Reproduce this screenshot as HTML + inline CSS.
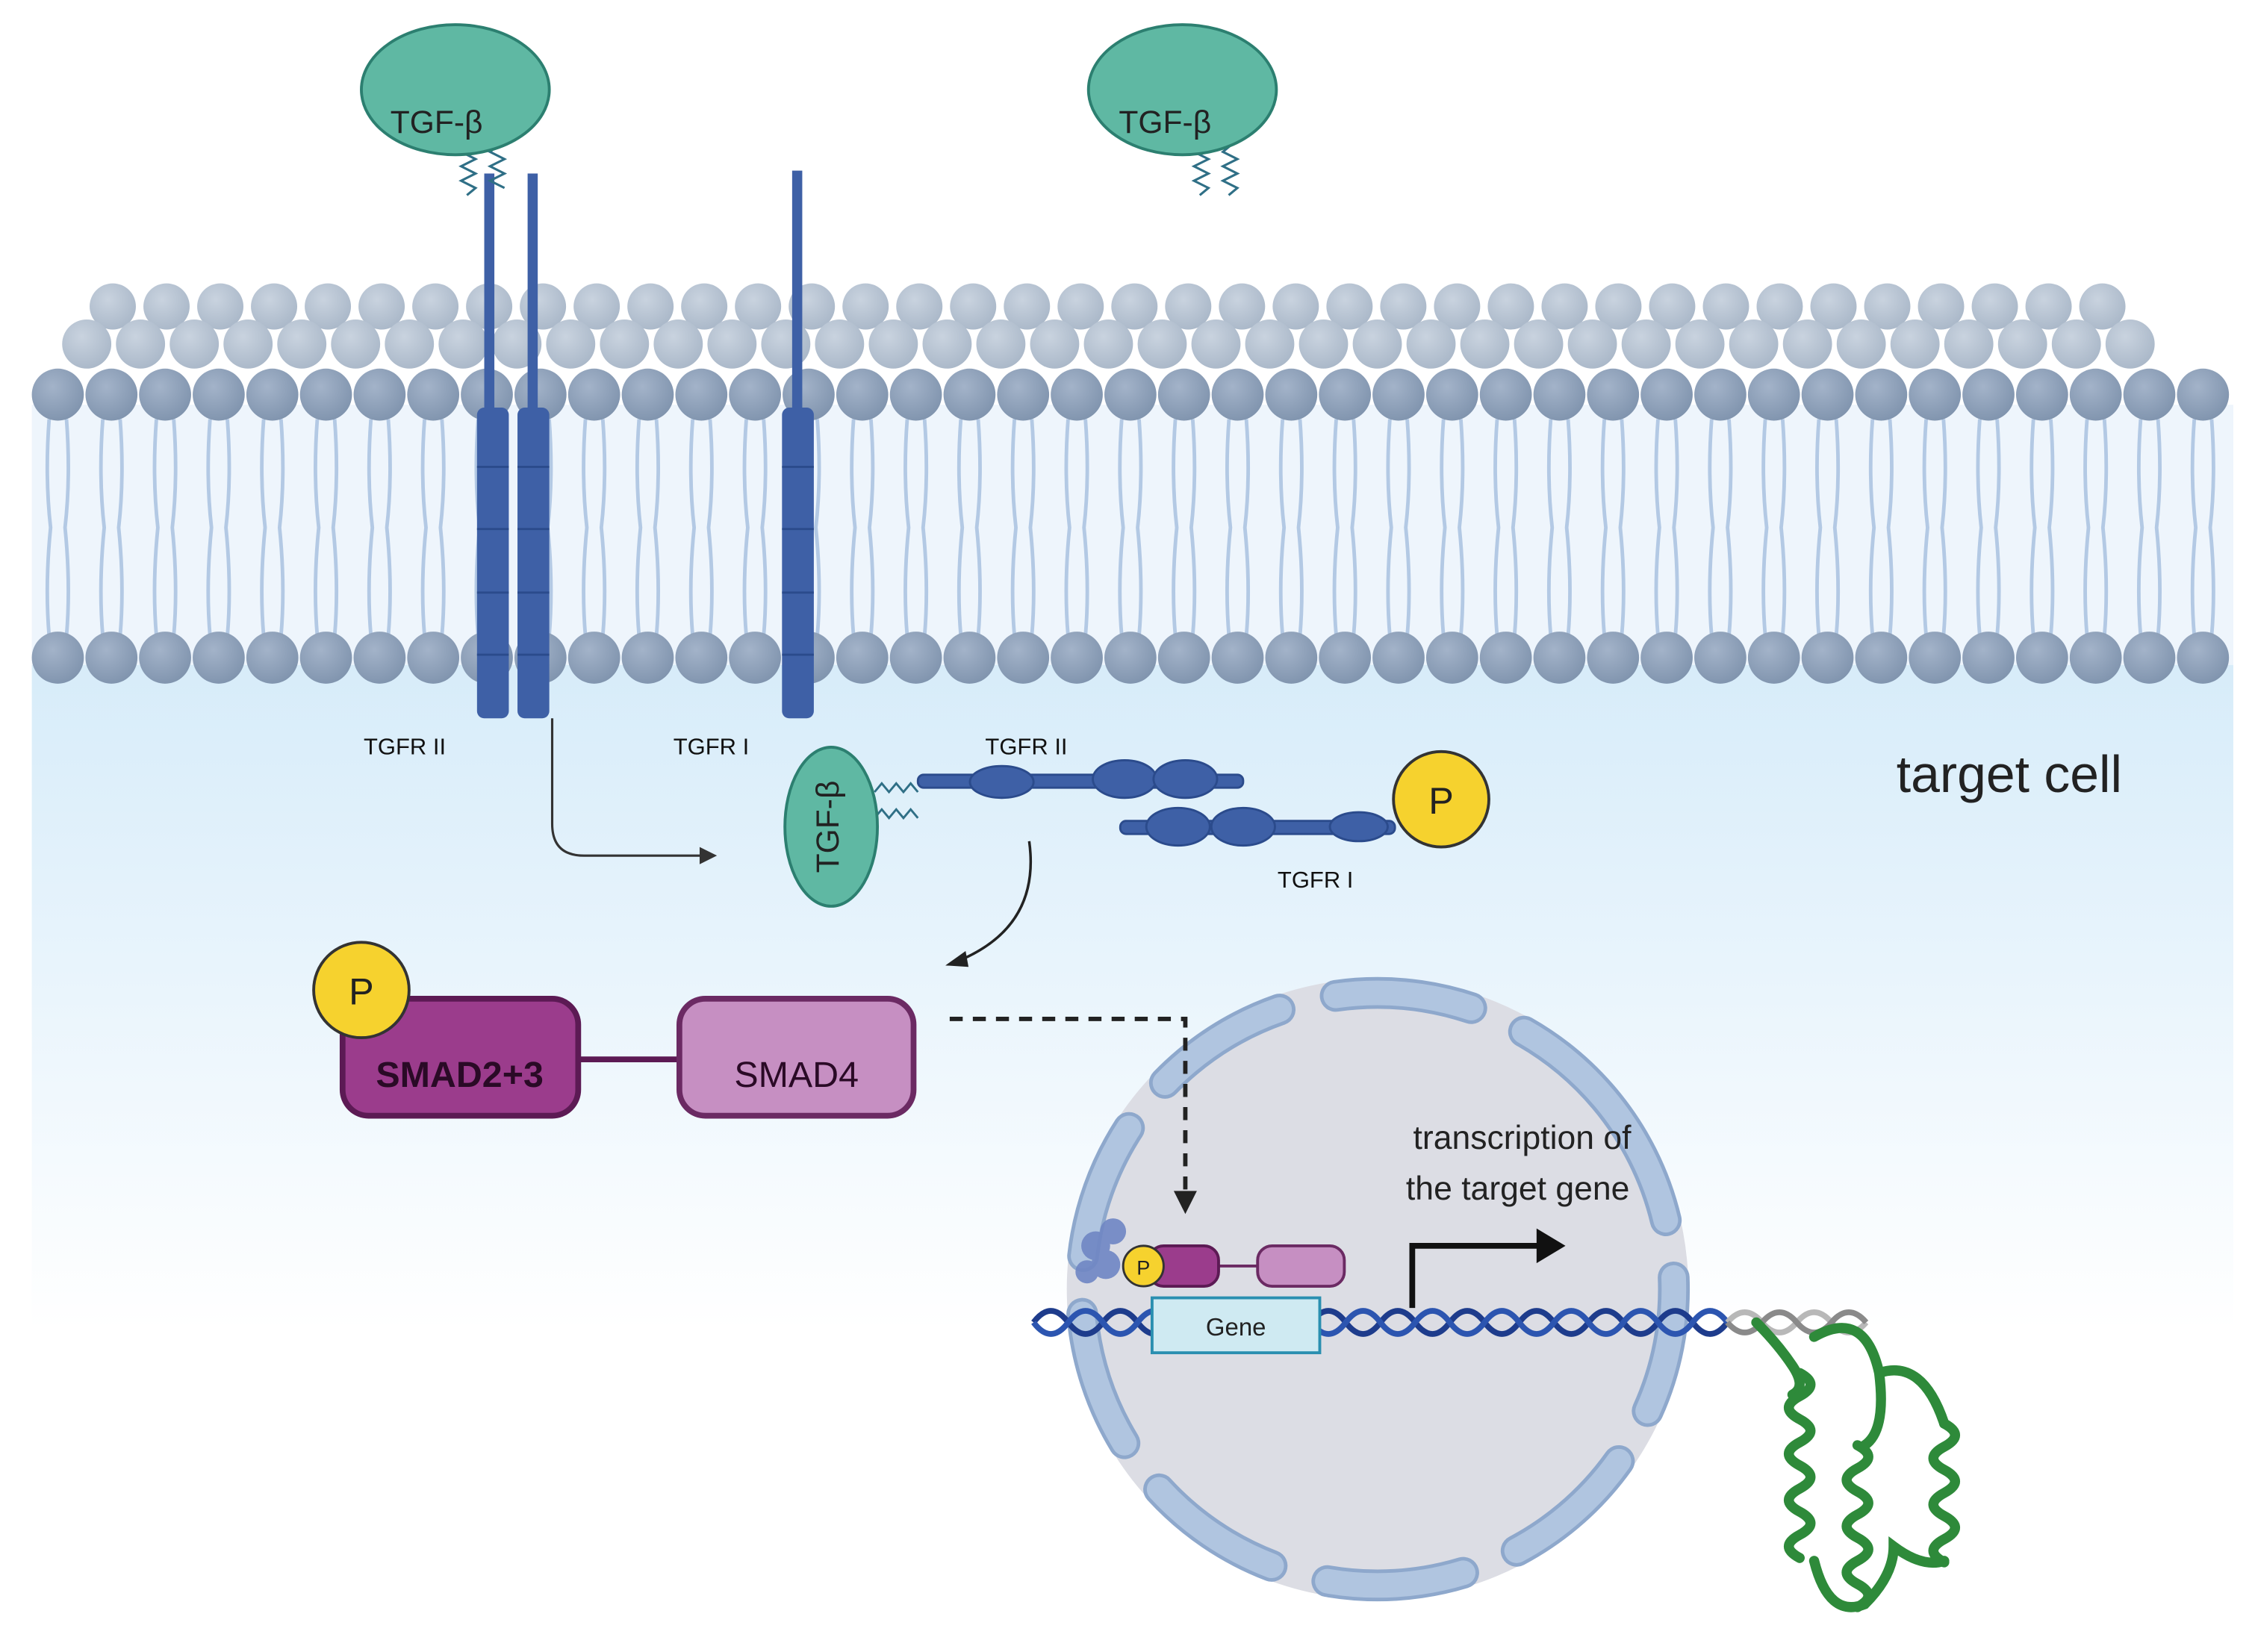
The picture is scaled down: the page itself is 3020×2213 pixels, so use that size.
<!DOCTYPE html>
<html><head><meta charset="utf-8"><style>
html,body{margin:0;padding:0;background:#fff;}
svg{display:block;}
text{font-family:"Liberation Sans",sans-serif;}
</style></head><body>
<svg width="3020" height="2213" viewBox="0 0 1560 1143" xmlns="http://www.w3.org/2000/svg">
<defs>
<linearGradient id="cyto" x1="0" y1="0" x2="0" y2="1">
<stop offset="0" stop-color="#d7ecf9"/><stop offset="0.45" stop-color="#e8f4fc"/><stop offset="1" stop-color="#ffffff"/>
</linearGradient>
<radialGradient id="head" cx="0.4" cy="0.35" r="0.7"><stop offset="0" stop-color="#a3b3c9"/><stop offset="1" stop-color="#7f93ad"/></radialGradient>
<radialGradient id="head2" cx="0.4" cy="0.35" r="0.7"><stop offset="0" stop-color="#c9d3df"/><stop offset="1" stop-color="#a9b7c8"/></radialGradient>
</defs>
<rect x="22" y="460" width="1523" height="460" fill="url(#cyto)"/>
<rect x="22" y="280" width="1523" height="180" fill="#eef5fc"/>
<g id="membrane"></g>
<script>
(function(){
var ns="http://www.w3.org/2000/svg",m=document.getElementById("membrane");
function c(x,y,r,f){var e=document.createElementNS(ns,"circle");e.setAttribute("cx",x);e.setAttribute("cy",y);e.setAttribute("r",r);e.setAttribute("fill",f);m.appendChild(e);}
function p(d){var e=document.createElementNS(ns,"path");e.setAttribute("d",d);e.setAttribute("stroke","#b3c9e4");e.setAttribute("stroke-width","2.5");e.setAttribute("fill","none");m.appendChild(e);}
for(var x=78;x<1490;x+=37.2){c(x,212,16,"url(#head2)");}
for(var x=60;x<1510;x+=37.2){c(x,238,17,"url(#head2)");}
for(var i=0;i<41;i++){var x=40+i*37.1;
 p("M"+(x-6)+" 290 Q"+(x-9)+" 330 "+(x-5)+" 365 Q"+(x-9)+" 405 "+(x-6)+" 440");
 p("M"+(x+6)+" 290 Q"+(x+9)+" 330 "+(x+5)+" 365 Q"+(x+9)+" 405 "+(x+6)+" 440");}
for(var i=0;i<41;i++){var x=40+i*37.1;c(x,273,18,"url(#head)");c(x,455,18,"url(#head)");}
})();
</script>
<!-- receptors -->
<g fill="#3e60a6">
<rect x="335" y="120" width="7" height="180"/><rect x="365" y="120" width="7" height="180"/><rect x="548" y="118" width="7" height="180"/>
<rect x="330" y="282" width="22" height="215" rx="5"/><rect x="358" y="282" width="22" height="215" rx="5"/><rect x="541" y="282" width="22" height="215" rx="5"/>
</g>
<g stroke="#2b4b8c" stroke-width="1.5">
<path d="M330 323H352M330 366H352M330 410H352M330 453H352M358 323H380M358 366H380M358 410H380M358 453H380M541 323H563M541 366H563M541 410H563M541 453H563"/>
</g>
<!-- ligands -->
<g stroke="#2f6f86" stroke-width="1.6" fill="none">
<path d="M325 100 l-6 5 l10 5 l-10 5 l10 5 l-10 5 l10 5 l-6 5"/><path d="M345 100 l-6 5 l10 5 l-10 5 l10 5 l-10 5 l10 5"/>
<path d="M832 100 l-6 5 l10 5 l-10 5 l10 5 l-10 5 l10 5 l-6 5"/><path d="M852 100 l-6 5 l10 5 l-10 5 l10 5 l-10 5 l10 5 l-6 5"/>
</g>
<ellipse cx="315" cy="62" rx="65" ry="45" fill="#5fb8a3" stroke="#2c7f70" stroke-width="2"/>
<ellipse cx="818" cy="62" rx="65" ry="45" fill="#5fb8a3" stroke="#2c7f70" stroke-width="2"/>
<text x="302" y="92" font-size="22" text-anchor="middle" fill="#222">TGF-β</text>
<text x="806" y="92" font-size="22" text-anchor="middle" fill="#222">TGF-β</text>
<text x="280" y="522" font-size="16" text-anchor="middle" fill="#111">TGFR II</text>
<text x="492" y="522" font-size="16" text-anchor="middle" fill="#111">TGFR I</text>
<text x="710" y="522" font-size="16" text-anchor="middle" fill="#111">TGFR II</text>
<text x="910" y="614" font-size="16" text-anchor="middle" fill="#111">TGFR I</text>
<text x="1390" y="548" font-size="36" text-anchor="middle" fill="#222">target cell</text>
<!-- arrow 1 -->
<path d="M382 497 V570 Q382 592 404 592 H485" stroke="#333" stroke-width="1.6" fill="none"/>
<path d="M496 592 l-12 -6 v12 z" fill="#333"/>
<!-- complex -->
<g fill="#3e60a6" stroke="#2b4b8c" stroke-width="1.5">
<rect x="635" y="536" width="225" height="9" rx="4"/>
<rect x="775" y="568" width="190" height="9" rx="4"/>
<ellipse cx="693" cy="541" rx="22" ry="11"/>
<ellipse cx="778" cy="539" rx="22" ry="13"/><ellipse cx="820" cy="539" rx="22" ry="13"/>
<ellipse cx="815" cy="572" rx="22" ry="13"/><ellipse cx="860" cy="572" rx="22" ry="13"/>
<ellipse cx="940" cy="572" rx="20" ry="10"/>
</g>
<g stroke="#2f6f86" stroke-width="1.5" fill="none"><path d="M605 548 l5 -6 l5 6 l5 -6 l5 6 l5 -6 l5 6"/><path d="M605 566 l5 -6 l5 6 l5 -6 l5 6 l5 -6 l5 6"/></g>
<ellipse cx="575" cy="572" rx="32" ry="55" fill="#5fb8a3" stroke="#2c7f70" stroke-width="2"/>
<text transform="translate(572,572) rotate(-90)" font-size="22" text-anchor="middle" fill="#222" y="8">TGF-β</text>
<circle cx="997" cy="553" r="33" fill="#f6d22e" stroke="#333" stroke-width="2"/>
<text x="997" y="563" font-size="26" text-anchor="middle" fill="#222">P</text>
<!-- arrow 2 -->
<path d="M712 582 Q720 640 665 664" stroke="#222" stroke-width="1.8" fill="none"/>
<path d="M654 668 l14 -10 l2 11 z" fill="#222"/>
<!-- SMADs -->
<line x1="400" y1="733" x2="470" y2="733" stroke="#5c1a54" stroke-width="4"/>
<rect x="237" y="691" width="163" height="81" rx="18" fill="#9b3c8c" stroke="#5c1a54" stroke-width="4"/>
<rect x="470" y="691" width="162" height="81" rx="18" fill="#c68fc2" stroke="#6b2a63" stroke-width="4"/>
<text x="318" y="752" font-size="25" font-weight="bold" text-anchor="middle" fill="#2a0a26">SMAD2+3</text>
<text x="551" y="752" font-size="25" text-anchor="middle" fill="#2a0a26">SMAD4</text>
<circle cx="250" cy="685" r="33" fill="#f6d22e" stroke="#333" stroke-width="2"/>
<text x="250" y="695" font-size="26" text-anchor="middle" fill="#222">P</text>
<!-- nucleus -->
<circle cx="953" cy="892" r="215" fill="#dcdde4"/>
<g fill="none" stroke="#8ea8cc" stroke-width="22" stroke-linecap="round">
<circle cx="953" cy="892" r="205" stroke-dasharray="95 40" transform="rotate(-40 953 892)"/>
</g>
<g fill="none" stroke="#b0c5e0" stroke-width="17" stroke-linecap="round">
<circle cx="953" cy="892" r="205" stroke-dasharray="95 40" transform="rotate(-40 953 892)"/>
</g>
<path d="M657 705 H820 V825" stroke="#222" stroke-width="3" fill="none" stroke-dasharray="9 7"/>
<path d="M820 840 l-8 -16 h16 z" fill="#222"/>
<text x="1053" y="795" font-size="23" text-anchor="middle" fill="#222">transcription of</text>
<text x="1050" y="830" font-size="23" text-anchor="middle" fill="#222">the target gene</text>
<!-- DNA -->
<g fill="none" stroke-width="4">
<path d="M715 915 q12 -16 24 0 t24 0 t24 0 t24 0 t24 0 t24 0 t24 0 t24 0 t24 0 t24 0 t24 0 t24 0 t24 0 t24 0 t24 0 t24 0 t24 0 t24 0 t24 0 t24 0" stroke="#1e3c8c"/>
<path d="M715 915 q12 16 24 0 t24 0 t24 0 t24 0 t24 0 t24 0 t24 0 t24 0 t24 0 t24 0 t24 0 t24 0 t24 0 t24 0 t24 0 t24 0 t24 0 t24 0 t24 0 t24 0" stroke="#2c55b0"/>
<path d="M1195 915 q12 -14 24 0 t24 0 t24 0 t24 0" stroke="#b8b8b8"/>
<path d="M1195 915 q12 14 24 0 t24 0 t24 0 t24 0" stroke="#8a8a8a"/>
</g>
<rect x="797" y="898" width="116" height="38" fill="#cfeaf2" stroke="#2a8fb0" stroke-width="2"/>
<text x="855" y="924" font-size="17" text-anchor="middle" fill="#222">Gene</text>
<g fill="#6f86c4" opacity="0.9"><circle cx="758" cy="862" r="10"/><circle cx="770" cy="852" r="9"/><circle cx="765" cy="875" r="10"/><circle cx="752" cy="880" r="8"/></g>
<line x1="840" y1="876" x2="870" y2="876" stroke="#6b2a63" stroke-width="2"/>
<rect x="795" y="862" width="48" height="28" rx="10" fill="#9b3c8c" stroke="#5c1a54" stroke-width="2"/>
<rect x="870" y="862" width="60" height="28" rx="10" fill="#c68fc2" stroke="#6b2a63" stroke-width="2"/>
<circle cx="791" cy="876" r="14" fill="#f6d22e" stroke="#333" stroke-width="1.5"/>
<text x="791" y="882" font-size="14" text-anchor="middle" fill="#222">P</text>
<path d="M977 905 V862 H1065" stroke="#111" stroke-width="4" fill="none"/>
<path d="M1083 862 l-20 -12 v24 z" fill="#111"/>
<!-- protein -->
<g fill="none" stroke="#2e8a3a" stroke-width="7" stroke-linecap="round">
<path d="M1215 915 Q1230 930 1240 945 Q1250 960 1240 965"/>
<path d="M1245 950 q15 8 0 16 t0 16 t0 16 t0 16 t0 16 t0 16 t0 16 t0 16"/>
<path d="M1285 1000 q15 8 0 16 t0 16 t0 16 t0 16 t0 16 t0 16 t0 16"/>
<path d="M1345 985 q15 8 0 16 t0 16 t0 16 t0 16 t0 16 t0 16"/>
<path d="M1255 1080 Q1265 1120 1290 1110 Q1310 1090 1310 1070 Q1330 1085 1345 1080"/>
<path d="M1255 925 Q1290 905 1300 950 Q1305 990 1290 1000 M1300 950 Q1330 940 1345 985"/>
</g>
</svg>
</body></html>
